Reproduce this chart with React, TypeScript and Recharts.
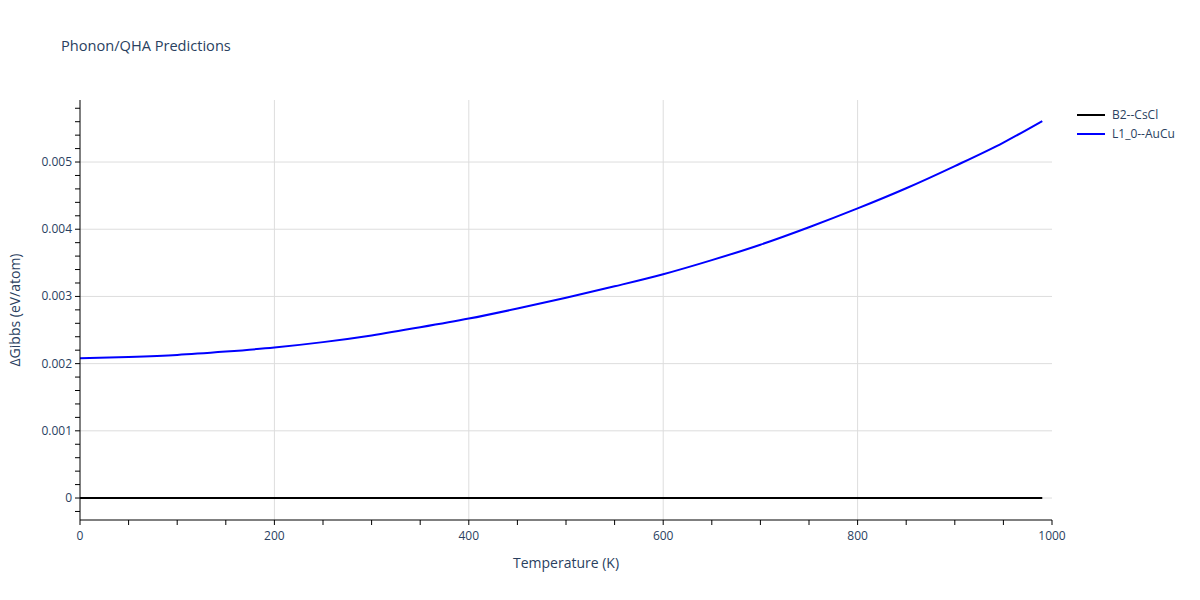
import React from 'react';
import { LineChart, Line, XAxis, YAxis, ReferenceLine } from 'recharts';

const temperatures = [0, 50, 100, 150, 200, 250, 300, 350, 400, 450, 500, 550, 600, 650, 700, 750, 800, 850, 900, 950, 990];
const l10AuCu = [0.00208, 0.00210, 0.00213, 0.00218, 0.00224, 0.00232, 0.00242, 0.00254, 0.00267, 0.00282, 0.00298, 0.00315, 0.00333, 0.00354, 0.00377, 0.00403, 0.00431, 0.00461, 0.00494, 0.00529, 0.00561];
const b2CsCl = [0, 0, 0, 0, 0, 0, 0, 0, 0, 0, 0, 0, 0, 0, 0, 0, 0, 0, 0, 0, 0];

const xMinorTicks = [0, 50, 100, 150, 200, 250, 300, 350, 400, 450, 500, 550, 600, 650, 700, 750, 800, 850, 900, 950, 1000];
const xLabelTicks = [0, 200, 400, 600, 800, 1000];
const xGridLines = [200, 400, 600, 800];
const yMinorTicks = [-0.0002, 0, 0.0002, 0.0004, 0.0006, 0.0008, 0.001, 0.0012, 0.0014, 0.0016, 0.0018, 0.002, 0.0022, 0.0024, 0.0026, 0.0028, 0.003, 0.0032, 0.0034, 0.0036, 0.0038, 0.004, 0.0042, 0.0044, 0.0046, 0.0048, 0.005, 0.0052, 0.0054, 0.0056, 0.0058];
const yLabelTicks = [0, 0.001, 0.002, 0.003, 0.004, 0.005];
const yLabelText = ['0', '0.001', '0.002', '0.003', '0.004', '0.005'];

const seriesNames = ['B2--CsCl', 'L1_0--AuCu'];
const seriesColors = ['#000000', '#0000ff'];

const data = temperatures.map((t, i) => ({ T: t, b2: b2CsCl[i], l10: l10AuCu[i] }));

const xDomain = [0, 1000];
const yDomain = [-0.000327, 0.005923];

const FONT = '"Open Sans", "Liberation Sans", sans-serif';
const TEXT = '#2a3f5f';

const near = (a: number, b: number) => Math.abs(a - b) < 1e-9;

const XTick = (props: any) => {
  const { x, y, payload } = props;
  const idx = xLabelTicks.findIndex((v) => near(v, payload.value));
  if (idx < 0) return <g />;
  return (
    <text x={x} y={y + 13} textAnchor="middle" fill={TEXT} fontSize={12} fontFamily={FONT}>
      {String(xLabelTicks[idx])}
    </text>
  );
};

const YTick = (props: any) => {
  const { x, y, payload } = props;
  const idx = yLabelTicks.findIndex((v) => near(v, payload.value));
  if (idx < 0) return <g />;
  return (
    <text x={x - 1} y={y + 4} textAnchor="end" fill={TEXT} fontSize={12} fontFamily={FONT}>
      {yLabelText[idx]}
    </text>
  );
};

export default function App() {
  return (
    <div style={{ position: 'absolute', left: 0, top: 0, width: 1200, height: 600, background: '#fff' }}>
      <div style={{ position: 'absolute', left: 61, top: 35, fontFamily: FONT, fontSize: 14.6, color: TEXT, whiteSpace: 'nowrap' }}>
        Phonon/QHA Predictions
      </div>
      <div style={{ position: 'absolute', left: 566, top: 553, transform: 'translateX(-50%)', fontFamily: FONT, fontSize: 14, color: TEXT, whiteSpace: 'nowrap' }}>
        Temperature (K)
      </div>
      <div style={{ position: 'absolute', left: 14, top: 310, transform: 'translate(-50%, -50%) rotate(-90deg)', fontFamily: FONT, fontSize: 14, color: TEXT, whiteSpace: 'nowrap' }}>
        ΔGibbs (eV/atom)
      </div>
      <div style={{ position: 'absolute', left: 1077, top: 105, fontFamily: FONT, fontSize: 12, color: TEXT }}>
        {seriesNames.map((n, i) => (
          <div key={n} style={{ display: 'flex', alignItems: 'center', height: 19 }}>
            <svg width={28} height={10} style={{ marginRight: 7 }}>
              <line x1={0} y1={5} x2={28} y2={5} stroke={seriesColors[i]} strokeWidth={2} />
            </svg>
            <span>{n}</span>
          </div>
        ))}
      </div>
      <LineChart width={1200} height={600} data={data} margin={{ top: 100, right: 148, bottom: 50, left: 20 }}>
        <XAxis
          dataKey="T"
          type="number"
          domain={xDomain}
          ticks={xMinorTicks}
          interval={0}
          height={30}
          allowDataOverflow
          axisLine={{ stroke: '#000', strokeWidth: 1 }}
          tickLine={{ stroke: '#000' }}
          tickSize={5}
          tick={<XTick />}
        />
        <YAxis
          type="number"
          domain={yDomain}
          ticks={yMinorTicks}
          interval={0}
          width={60}
          allowDataOverflow
          axisLine={{ stroke: '#000', strokeWidth: 1 }}
          tickLine={{ stroke: '#000' }}
          tickSize={5}
          tick={<YTick />}
        />
        {xGridLines.map((v) => (
          <ReferenceLine key={'x' + v} x={v} stroke="#dddddd" strokeWidth={1} />
        ))}
        {yLabelTicks.map((v) => (
          <ReferenceLine key={'y' + v} y={v} stroke="#dddddd" strokeWidth={1} />
        ))}
        <Line type="monotone" dataKey="b2" name={seriesNames[0]} stroke={seriesColors[0]} strokeWidth={2} dot={false} isAnimationActive={false} />
        <Line type="monotone" dataKey="l10" name={seriesNames[1]} stroke={seriesColors[1]} strokeWidth={2} dot={false} isAnimationActive={false} />
      </LineChart>
    </div>
  );
}
